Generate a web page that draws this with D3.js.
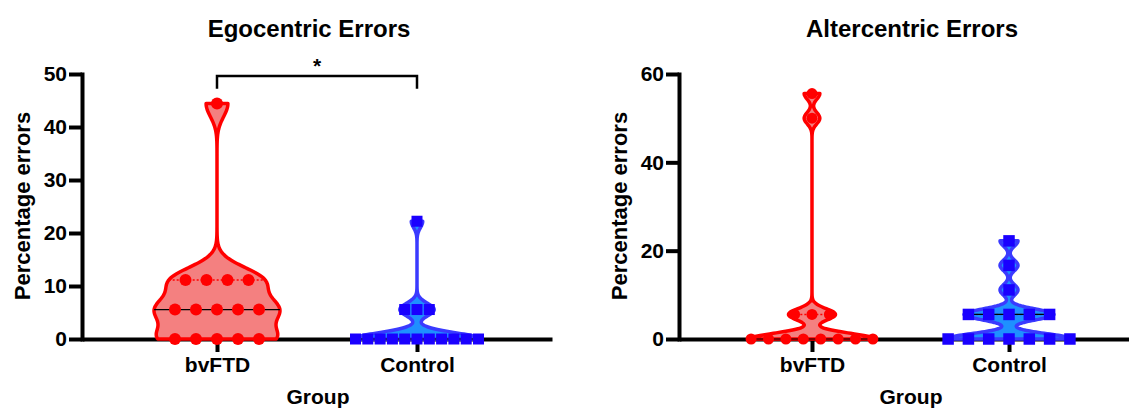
<!DOCTYPE html>
<html>
<head>
<meta charset="utf-8">
<script src="https://cdn.jsdelivr.net/npm/d3@7"></script>
<style>
  body { margin: 0; background: #fff; }
  text { font-family: "Liberation Sans", Arial, sans-serif; font-weight: bold; fill: #000; }
</style>
</head>
<body>
<div id="chart"></div>
<script>
// groups and values (percent errors)
const groups = ["bvFTD", "Control"];
const egoBvftd = [0, 0, 0, 0, 0, 5.56, 5.56, 5.56, 5.56, 5.56, 11.11, 11.11, 11.11, 11.11, 44.44];
const egoControl = [0, 0, 0, 0, 0, 0, 0, 0, 0, 0, 0, 5.56, 5.56, 5.56, 22.22];
const altBvftd = [0, 0, 0, 0, 0, 0, 0, 0, 5.56, 5.56, 5.56, 50, 55.56];
const altControl = [0, 0, 0, 0, 0, 0, 0, 5.56, 5.56, 5.56, 5.56, 5.56, 11.11, 16.67, 22.22];
const egoTicks = [0, 10, 20, 30, 40, 50];
const altTicks = [0, 20, 40, 60];

const W = 1129, H = 410;
const svg = d3.select("#chart").append("svg")
  .attr("width", W).attr("height", H);

const red = { stroke: "#ff0000", fill: "#f48080", point: "#ff0000" };
const blue = { stroke: "#3a3aff", fill: "#1e90ff", point: "#1a00ff" };

const panels = [
  { title: "Egocentric Errors", series: [egoBvftd, egoControl], ticks: egoTicks, ymax: 50,
    x0: 82, x1: 552, bw: [2.5, 1.2], gap: [21, 12.3], sig: true, tx: 309, gx: 318 },
  { title: "Altercentric Errors", series: [altBvftd, altControl], ticks: altTicks, ymax: 60,
    x0: 679, x1: 1142, bw: [1.3, 1.2], gap: [17.4, 20.3], sig: false, tx: 912, gx: 911 }
];

// quantile GraphPad style, position p*(n+1)
function quant(arr, p) {
  const s = arr.slice().sort(d3.ascending);
  let pos = p * (s.length + 1) - 1;
  pos = Math.max(0, Math.min(s.length - 1, pos));
  const lo = Math.floor(pos), hi = Math.ceil(pos);
  return s[lo] + (s[hi] - s[lo]) * (pos - lo);
}

function kde(values, h, lo, hi) {
  const out = [];
  const n = 240;
  for (let i = 0; i <= n; i++) {
    const y = lo + (hi - lo) * i / n;
    const d = d3.sum(values, v => Math.exp(-0.5 * ((y - v) / h) ** 2));
    out.push([y, d]);
  }
  return out;
}

panels.forEach(p => {
  const g = svg.append("g");
  const y = d3.scaleLinear().domain([0, p.ymax]).range([339, 74]);
  const x = d3.scalePoint().domain(groups).range([p.x0, p.x1]).padding(0.675);

  // title
  g.append("text").attr("x", p.tx).attr("y", 37)
    .attr("text-anchor", "middle").style("font-size", "24px").text(p.title);

  // y axis
  const yAxis = g.append("g").attr("transform", "translate(" + p.x0 + ",0)")
    .call(d3.axisLeft(y).tickValues(p.ticks).tickSize(13).tickSizeOuter(0).tickPadding(2));
  yAxis.selectAll("path, line").attr("stroke", "#000").attr("stroke-width", 4);
  yAxis.selectAll("text").style("font-size", "21px").attr("fill", "#000");
  yAxis.select(".domain").attr("stroke-linecap", "square");

  // x axis
  const xAxis = g.append("g").attr("transform", "translate(0,339)")
    .call(d3.axisBottom(x).tickSize(13).tickSizeOuter(0).tickPadding(5));
  xAxis.selectAll("path, line").attr("stroke", "#000").attr("stroke-width", 4);
  xAxis.selectAll("text").style("font-size", "21px").attr("fill", "#000");

  // axis titles
  g.append("text").attr("x", p.gx).attr("y", 404)
    .attr("text-anchor", "middle").style("font-size", "21px").text("Group");
  g.append("text")
    .attr("transform", "translate(" + (p.x0 - 52) + ",206) rotate(-90)")
    .attr("text-anchor", "middle").style("font-size", "22px").text("Percentage errors");

  p.series.forEach((vals, i) => {
    const col = i === 0 ? red : blue;
    const c = x(groups[i]);
    const lo = d3.min(vals), hi = d3.max(vals);
    const dens = kde(vals, p.bw[i], lo, hi);
    const dmax = d3.max(dens, d => d[1]);
    const halfW = 63;
    const wAt = v => {
      const dd = d3.sum(vals, t => Math.exp(-0.5 * ((v - t) / p.bw[i]) ** 2));
      return halfW * dd / dmax;
    };

    const area = d3.area()
      .y(d => y(d[0]))
      .x0(d => c - halfW * d[1] / dmax)
      .x1(d => c + halfW * d[1] / dmax)
      .curve(d3.curveBasis);

    g.append("path").datum(dens)
      .attr("d", area)
      .attr("fill", col.fill)
      .attr("stroke", col.stroke)
      .attr("stroke-width", 3.5)
      .attr("stroke-linejoin", "round");

    // quartile and median lines
    const q1 = quant(vals, 0.25), q3 = quant(vals, 0.75), med = quant(vals, 0.5);
    [q1, q3].forEach(q => {
      const w = wAt(q);
      g.append("line")
        .attr("x1", c - w).attr("x2", c + w)
        .attr("y1", y(q)).attr("y2", y(q))
        .attr("stroke", col.stroke).attr("stroke-width", 1.5)
        .attr("stroke-dasharray", "2,2");
    });
    const wm = wAt(med);
    g.append("line")
      .attr("x1", c - wm).attr("x2", c + wm)
      .attr("y1", y(med)).attr("y2", y(med))
      .attr("stroke", "#000").attr("stroke-width", 1.2);

    // points spread sideways by value
    const pts = [];
    d3.rollups(vals, v => v.length, d => d).forEach(([v, k]) => {
      for (let j = 0; j < k; j++) pts.push({ v: v, off: (j - (k - 1) / 2) * p.gap[i] });
    });
    if (i === 0) {
      g.selectAll(".dot" + i).data(pts).enter().append("circle")
        .attr("cx", d => c + d.off).attr("cy", d => y(d.v))
        .attr("r", p.sig ? 6 : 5.5)
        .attr("fill", col.point);
    } else {
      const s = p.sig ? 11 : 11.5;
      g.selectAll(".sq" + i).data(pts).enter().append("rect")
        .attr("x", d => c + d.off - s / 2).attr("y", d => y(d.v) - s / 2)
        .attr("width", s).attr("height", s)
        .attr("fill", col.point);
    }
  });

  // significance bracket
  if (p.sig) {
    const a = x(groups[0]), b = x(groups[1]);
    const yb = y(49.6), yl = y(47.2);
    g.append("path")
      .attr("d", "M" + a + "," + yl + "V" + yb + "H" + b + "V" + yl)
      .attr("fill", "none").attr("stroke", "#000").attr("stroke-width", 2.5);
    g.append("text").attr("x", (a + b) / 2).attr("y", 73)
      .attr("text-anchor", "middle").style("font-size", "21px").text("*");
  }
});
</script>
</body>
</html>
